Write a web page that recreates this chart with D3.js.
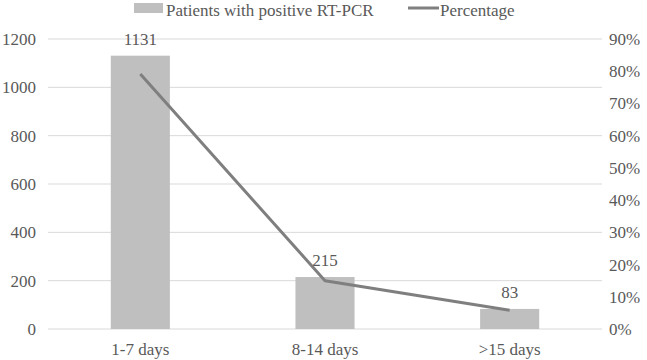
<!DOCTYPE html>
<html>
<head>
<meta charset="utf-8">
<script src="https://cdn.jsdelivr.net/npm/d3@7"></script>
<style>
  body { margin: 0; background: #fff; }
</style>
</head>
<body>
<div id="chart"></div>
<script>
// data
const categories = ["1-7 days", "8-14 days", ">15 days"]
const patients = [1131, 215, 83]
const percentage = [0.791, 0.150, 0.058]
const leftTicks = [0, 200, 400, 600, 800, 1000, 1200]
const rightTicks = [0, 0.1, 0.2, 0.3, 0.4, 0.5, 0.6, 0.7, 0.8, 0.9]

const W = 647, H = 360
const margin = { top: 39, right: 45, bottom: 31, left: 48 }
const FONT = "'Liberation Serif', 'Times New Roman', Times, serif"
const FS = "17px"
const TXT = "#595959"

let svg = d3.select("#chart").append("svg")
    .attr("width", W)
    .attr("height", H)

let x = d3.scaleBand()
    .domain(categories)
    .range([margin.left, W - margin.right])
    .paddingInner(0.68)
    .paddingOuter(0.34)

let yL = d3.scaleLinear().domain([0, 1200]).range([H - margin.bottom, margin.top])
let yR = d3.scaleLinear().domain([0, 0.9]).range([H - margin.bottom, margin.top])

// gridlines
svg.append("g")
    .selectAll("line")
    .data(leftTicks)
    .enter()
    .append("line")
        .attr("x1", margin.left)
        .attr("x2", W - margin.right)
        .attr("y1", d => yL(d))
        .attr("y2", d => yL(d))
        .attr("stroke", "#d9d9d9")
        .attr("stroke-width", 1)

let styleAxis = (g) => {
    g.select(".domain").remove()
    g.selectAll("text")
        .style("font-family", FONT)
        .style("font-size", FS)
        .style("fill", TXT)
}

// left axis
svg.append("g")
    .attr("transform", "translate(" + (margin.left - 12) + ",0)")
    .call(d3.axisLeft(yL).tickValues(leftTicks).tickFormat(d3.format("d")).tickSize(0).tickPadding(0))
    .call(styleAxis)

// right axis
svg.append("g")
    .attr("transform", "translate(" + (W - margin.right + 7) + ",0)")
    .call(d3.axisRight(yR).tickValues(rightTicks).tickFormat(d3.format(".0%")).tickSize(0).tickPadding(0))
    .call(styleAxis)

// category axis
svg.append("g")
    .attr("transform", "translate(0," + (H - margin.bottom) + ")")
    .call(d3.axisBottom(x).tickSize(0).tickPadding(14))
    .call(styleAxis)

// bars
svg.append("g")
    .selectAll("rect")
    .data(patients)
    .enter()
    .append("rect")
        .attr("x", (d, i) => x(categories[i]))
        .attr("y", d => yL(d))
        .attr("width", x.bandwidth())
        .attr("height", d => yL(0) - yL(d))
        .attr("fill", "#bfbfbf")

// bar labels
svg.append("g")
    .selectAll("text")
    .data(patients)
    .enter()
    .append("text")
        .attr("x", (d, i) => x(categories[i]) + x.bandwidth() / 2)
        .attr("y", d => yL(d) - 11)
        .attr("text-anchor", "middle")
        .style("font-family", FONT)
        .style("font-size", FS)
        .style("fill", TXT)
        .text(d => d)

// percentage line
let line = d3.line()
    .x((d, i) => x(categories[i]) + x.bandwidth() / 2)
    .y(d => yR(d))

svg.append("path")
    .datum(percentage)
    .attr("d", line)
    .attr("fill", "none")
    .attr("stroke", "#7f7f7f")
    .attr("stroke-width", 3)
    .attr("stroke-linejoin", "round")

// legend
let leg = svg.append("g")
leg.append("rect")
    .attr("x", 134).attr("y", 3)
    .attr("width", 29).attr("height", 10)
    .attr("fill", "#bfbfbf")
leg.append("text")
    .attr("x", 166).attr("y", 15.5)
    .style("font-family", FONT)
    .style("font-size", FS)
    .style("fill", TXT)
    .text("Patients with positive RT-PCR")
leg.append("line")
    .attr("x1", 408).attr("x2", 439)
    .attr("y1", 8).attr("y2", 8)
    .attr("stroke", "#7f7f7f")
    .attr("stroke-width", 3)
leg.append("text")
    .attr("x", 440).attr("y", 15.5)
    .style("font-family", FONT)
    .style("font-size", FS)
    .style("fill", TXT)
    .text("Percentage")
</script>
</body>
</html>
